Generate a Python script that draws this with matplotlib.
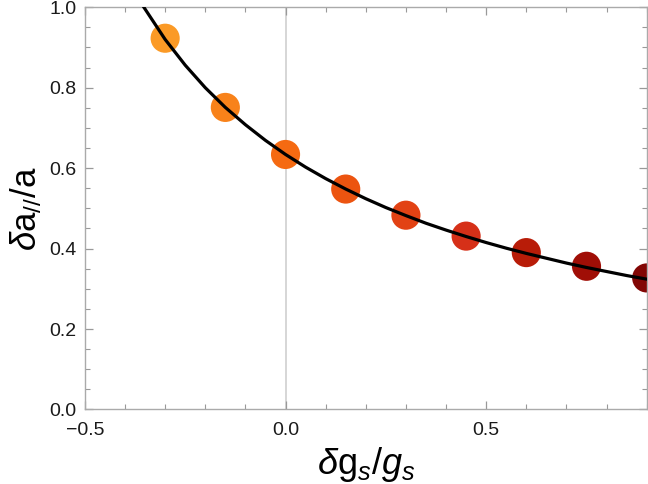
import matplotlib
matplotlib.use('Agg')
import matplotlib.pyplot as plt
from matplotlib.ticker import MultipleLocator

plt.rcParams['font.family'] = ['Liberation Sans', 'DejaVu Sans']
plt.rcParams['mathtext.fontset'] = 'custom'
plt.rcParams['mathtext.rm'] = 'Liberation Sans'
plt.rcParams['mathtext.it'] = 'Liberation Sans:italic'

# data points
dgs = [-0.3, -0.15, 0.0, 0.15, 0.3, 0.45, 0.6, 0.75, 0.9]
dapar = [0.923, 0.751, 0.634, 0.548, 0.483, 0.431, 0.390, 0.356, 0.327]
point_colors = ['#FB9A26', '#F8821A', '#F56A12', '#EC5410', '#E24214',
                '#D63018', '#B81C08', '#A00E06', '#820604']

# fitted curve
curve_x = [-0.355, -0.3, -0.25, -0.2, -0.15, -0.1, -0.05, 0.0, 0.05, 0.1, 0.15,
           0.2, 0.25, 0.3, 0.35, 0.4, 0.45, 0.5, 0.55, 0.6, 0.65, 0.7, 0.75,
           0.8, 0.85, 0.9]
curve_y = [1.003, 0.920, 0.856, 0.800, 0.751, 0.708, 0.669, 0.634, 0.6025,
           0.574, 0.548, 0.524, 0.502, 0.482, 0.463, 0.446, 0.430, 0.415,
           0.401, 0.388, 0.376, 0.364, 0.353, 0.343, 0.333, 0.324]

fig = plt.figure(figsize=(6.48, 4.84), dpi=100)
ax = fig.add_axes([0.131, 0.154, 0.867, 0.831])

ax.axvline(0, color='#d0d0d0', lw=1.2, zorder=0)
ax.scatter(dgs, dapar, s=440, c=point_colors, edgecolors='none', zorder=2, clip_on=False)
ax.plot(curve_x, curve_y, color='black', lw=2.3, zorder=3)

ax.set_xlim(-0.5, 0.9)
ax.set_ylim(0, 1.0)
ax.xaxis.set_major_locator(MultipleLocator(0.5))
ax.xaxis.set_minor_locator(MultipleLocator(0.1))
ax.yaxis.set_major_locator(MultipleLocator(0.2))
ax.yaxis.set_minor_locator(MultipleLocator(0.05))
ax.tick_params(which='both', direction='in', top=True, right=True, color='#999999',
               labelsize=14, labelcolor='#1a1a1a')
ax.tick_params(which='major', length=6, width=0.9)
ax.tick_params(which='minor', length=3.5, width=0.8)
ax.tick_params(axis='x', which='major', pad=9)
ax.tick_params(axis='y', which='major', pad=6)
for sp in ax.spines.values():
    sp.set_color('#aaaaaa')
    sp.set_linewidth(1.0)

ax.set_xlabel(r'$\delta\mathrm{g}_s/g_s$', fontsize=26, labelpad=4)
ax.set_ylabel(r'$\delta\mathrm{a}_{//}/\mathrm{a}$', fontsize=25, labelpad=4)

fig.savefig('out.png', dpi=100)
